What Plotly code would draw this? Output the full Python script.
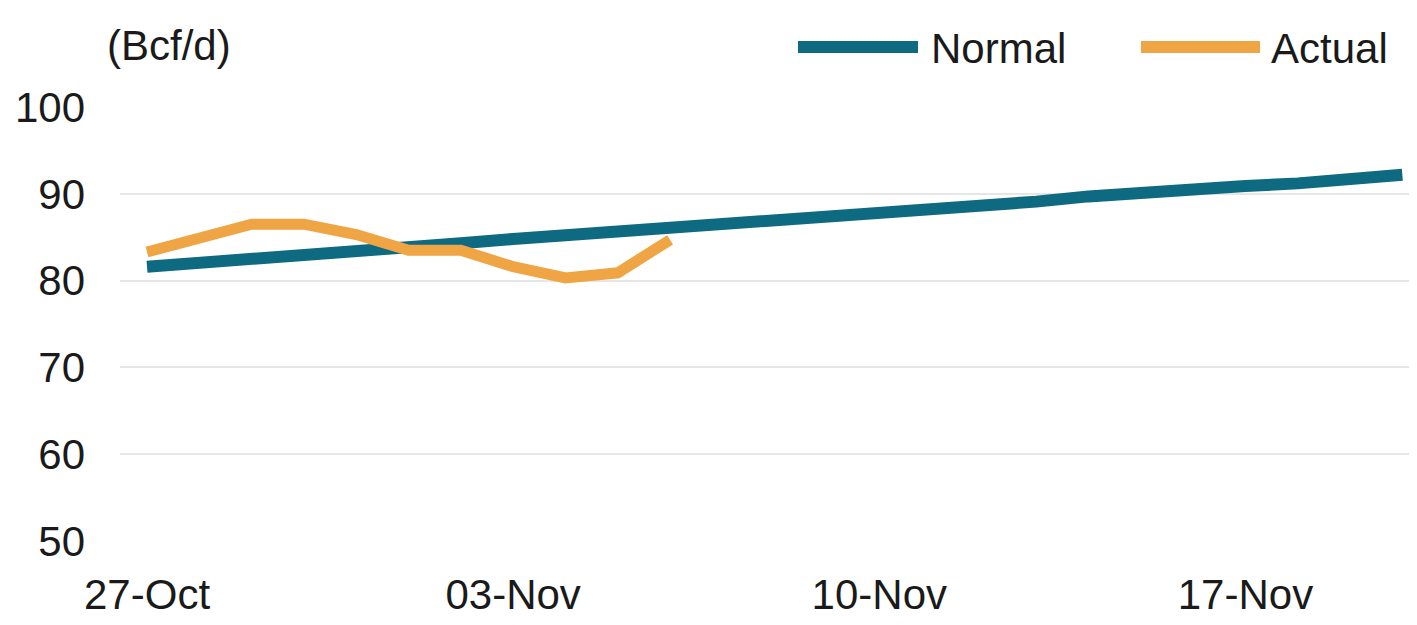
import pandas as pd
import plotly.graph_objects as go

start_date = "2023-10-27"
normal_values = [81.6, 82.0, 82.4, 82.8, 83.3, 83.8, 84.3, 84.8, 85.2, 85.6, 86.0, 86.5,
                 87.0, 87.5, 87.8, 88.1, 88.6, 89.1, 89.7, 90.2, 90.7, 90.9, 91.2, 91.7, 92.2]
actual_values = [83.3, 84.9, 86.5, 86.5, 85.3, 83.5, 83.5, 81.6, 80.3, 80.9, 84.7]
series_names = ["Normal", "Actual"]
tick_dates = ["2023-10-27", "2023-11-03", "2023-11-10", "2023-11-17"]
tick_labels = ["27-Oct", "03-Nov", "10-Nov", "17-Nov"]
y_ticks = [50, 60, 70, 80, 90, 100]
unit_label = "(Bcf/d)"

normal_dates = pd.date_range(start_date, periods=len(normal_values), freq="D")
actual_dates = pd.date_range(start_date, periods=len(actual_values), freq="D")

NORMAL_COLOR = "#0d6a80"
ACTUAL_COLOR = "#f0a544"
FONT = "Liberation Sans, Arial, sans-serif"
TEXT = "#1a1a1a"
FS = 42

# page has an 8px body margin
OFF = 8
W, H = 1417 - OFF, 625 - OFF
ML, MR, MT = 112, 0, 99
PLOT_W = W - ML - MR
PLOT_TOP, PLOT_BOT = 107, 541  # page coords
MB = H - (PLOT_BOT - OFF)
PLOT_H = PLOT_BOT - PLOT_TOP


def px(xpage):
    return (xpage - OFF - ML) / PLOT_W


def py(ypage):
    return (PLOT_BOT - ypage) / PLOT_H


fig = go.Figure()
fig.add_trace(go.Scatter(x=normal_dates, y=normal_values, mode="lines", name=series_names[0],
                         line=dict(color=NORMAL_COLOR, width=12), showlegend=False))
fig.add_trace(go.Scatter(x=actual_dates, y=actual_values, mode="lines", name=series_names[1],
                         line=dict(color=ACTUAL_COLOR, width=11), showlegend=False))

t0 = pd.Timestamp(start_date)
x_range = [t0 - pd.Timedelta(hours=12.4), t0 + pd.Timedelta(hours=24 * 24.28)]

fig.update_layout(
    width=W, height=H,
    margin=dict(l=ML, r=MR, t=MT, b=MB),
    paper_bgcolor="white", plot_bgcolor="white",
    font=dict(family=FONT, size=FS, color=TEXT),
    xaxis=dict(range=x_range, tickvals=tick_dates, ticktext=tick_labels,
               showgrid=False, zeroline=False, showline=False, ticks="",
               ticklabelstandoff=25, automargin=False),
    yaxis=dict(range=[50, 100], tickvals=y_ticks, showgrid=True, gridcolor="#e6e6e6",
               gridwidth=2, zeroline=False, showline=False, ticks="",
               ticklabelstandoff=34, automargin=False),
)

# legend drawn manually to match long line samples
legend_items = [(series_names[0], NORMAL_COLOR, 798, 918, 929),
                (series_names[1], ACTUAL_COLOR, 1141, 1260, 1269)]
for name, color, x0, x1, xt in legend_items:
    fig.add_shape(type="line", xref="paper", yref="paper",
                  x0=px(x0), x1=px(x1), y0=py(47), y1=py(47),
                  line=dict(color=color, width=12))
    fig.add_annotation(text=name, xref="paper", yref="paper",
                       x=px(xt), y=py(48),
                       xanchor="left", yanchor="middle", showarrow=False,
                       font=dict(family=FONT, size=FS, color=TEXT))

fig.add_annotation(text=unit_label, xref="paper", yref="paper",
                   x=px(105), y=py(45),
                   xanchor="left", yanchor="middle", showarrow=False,
                   font=dict(family=FONT, size=FS, color=TEXT))

fig.write_html("out.html")
